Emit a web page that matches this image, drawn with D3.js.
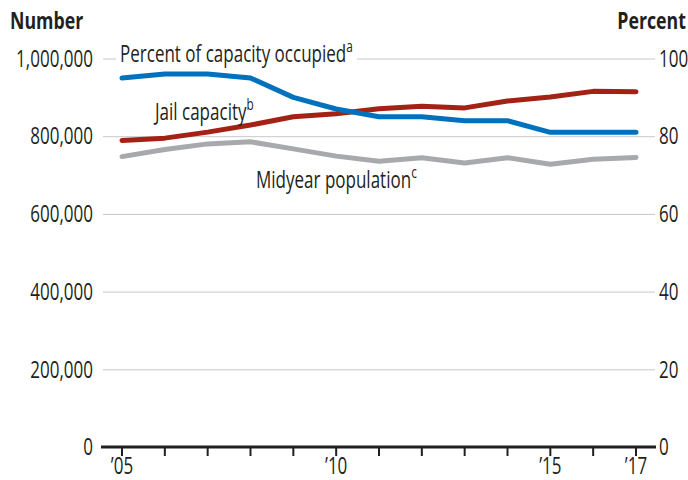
<!DOCTYPE html>
<html>
<head>
<meta charset="utf-8">
<script src="https://cdn.jsdelivr.net/npm/d3@7"></script>
<style>
  body { margin: 0; background: #fff; }
  svg text { font-family: "Open Sans", "DejaVu Sans", sans-serif; fill: #231f20; }
</style>
</head>
<body>
<div id="chart"></div>
<script>
// data
var years = [2005, 2006, 2007, 2008, 2009, 2010, 2011, 2012, 2013, 2014, 2015, 2016, 2017]
var capacity = [789000, 795000, 810500, 828700, 849900, 857900, 870400, 877300, 872900, 890500, 900800, 915400, 914400]
var population = [747500, 765800, 780200, 785500, 767400, 748700, 735600, 744500, 731200, 744600, 728000, 740700, 745200]
var percentOccupied = [95, 96, 96, 95, 90, 87, 85, 85, 84, 84, 81, 81, 81]

var leftTicks = [0, 200000, 400000, 600000, 800000, 1000000]
var rightTicks = [0, 20, 40, 60, 80, 100]
var xLabels = { 2005: "\u201905", 2010: "\u201910", 2015: "\u201915", 2017: "\u201917" }

var width = 688, height = 480
var squeeze = 0.74   // fake a condensed face

var svg = d3.select("#chart")
    .append("svg")
    .attr("width", width)
    .attr("height", height)

// condensed text helper: position by transform so scaleX keeps the anchor in place
function ctext(parent, tx, ty, size) {
    return parent.append("text")
        .attr("transform", "translate(" + tx + "," + ty + ") scale(" + squeeze + ",1)")
        .style("font-size", (size || 23) + "px")
}

// scales
var x = d3.scaleLinear().domain([2005, 2017]).range([122, 636])
var y = d3.scaleLinear().domain([0, 1000000]).range([447, 58.5])
var y2 = d3.scaleLinear().domain([0, 100]).range([447, 58.5])

// gridlines
svg.append("g")
    .selectAll("line")
    .data(leftTicks.slice(1))
    .enter()
    .append("line")
    .attr("x1", 103)
    .attr("x2", 655)
    .attr("y1", function (d) { return y(d) + 0.5 })
    .attr("y2", function (d) { return y(d) + 0.5 })
    .style("stroke", "#c8c8c8")
    .style("stroke-width", 1)

// left axis labels
var gl = svg.append("g")
leftTicks.forEach(function (d) {
    ctext(gl, 93, y(d))
        .attr("dy", "0.36em")
        .attr("text-anchor", "end")
        .text(d3.format(",")(d))
})

// right axis labels
var gr = svg.append("g")
rightTicks.forEach(function (d) {
    ctext(gr, 659, y2(d))
        .attr("dy", "0.36em")
        .text(d)
})

// axis titles
ctext(svg, 10, 29, 24).style("font-weight", "bold").text("Number")
ctext(svg, 686, 29, 24).attr("text-anchor", "end").style("font-weight", "bold").text("Percent")

// series labels (white box hides gridline under first label)
function seriesLabel(tx, ty, label, sup, mask) {
    var g = svg.append("g")
    var bg = g.append("rect").style("fill", "#fff")
    var t = ctext(g, tx, ty)
    t.append("tspan").text(label)
    t.append("tspan").attr("dy", -10).style("font-size", "16px").text(sup)
    if (mask) {
        var bb = t.node().getBBox()
        bg.attr("x", tx + bb.x * squeeze - 4).attr("y", ty + bb.y)
            .attr("width", bb.width * squeeze + 8).attr("height", bb.height)
    }
}

// lines
var line = function (vals, scale) {
    return d3.line()
        .x(function (d, i) { return x(years[i]) })
        .y(function (d) { return scale(d) })(vals)
}

function drawLine(vals, scale, color) {
    svg.append("path")
        .attr("d", line(vals, scale))
        .style("fill", "none").style("stroke", color).style("stroke-width", 5)
        .style("stroke-linecap", "round").style("stroke-linejoin", "round")
}

drawLine(population, y, "#a7a9ac")
drawLine(capacity, y, "#a42116")
drawLine(percentOccupied, y2, "#0071bc")

seriesLabel(120, 62, "Percent of capacity occupied", "a", true)
seriesLabel(155, 120, "Jail capacity", "b", false)
seriesLabel(256, 188, "Midyear population", "c", false)

// x axis
svg.append("line")
    .attr("x1", 101).attr("x2", 656)
    .attr("y1", y(0)).attr("y2", y(0))
    .style("stroke", "#231f20").style("stroke-width", 3)

svg.append("g")
    .selectAll("line")
    .data(years)
    .enter()
    .append("line")
    .attr("x1", function (d) { return x(d) })
    .attr("x2", function (d) { return x(d) })
    .attr("y1", y(0))
    .attr("y2", y(0) + 9)
    .style("stroke", "#231f20").style("stroke-width", 2)

var gx = svg.append("g")
years.filter(function (d) { return xLabels[d] }).forEach(function (d) {
    ctext(gx, x(d), 474)
        .attr("text-anchor", "middle")
        .text(xLabels[d])
})
</script>
</body>
</html>
